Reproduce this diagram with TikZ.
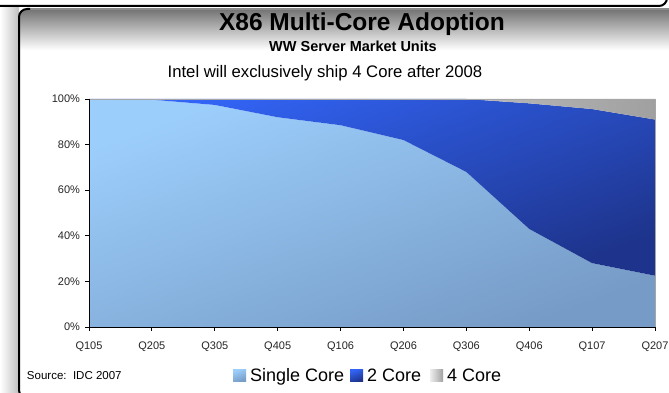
\documentclass[tikz,border=0pt]{standalone}
\usepackage{fontspec}
\setmainfont{Liberation Sans}
\usetikzlibrary{positioning}

\definecolor{sglLight}{RGB}{156,206,252}
\definecolor{sglDark}{RGB}{118,155,198}
\definecolor{dualLight}{RGB}{50,100,245}
\definecolor{dualDark}{RGB}{30,52,140}
\definecolor{quadLight}{RGB}{238,238,238}
\definecolor{quadDark}{RGB}{160,160,160}

\begin{document}
\begin{tikzpicture}[x=1pt, y=-1pt,
    every node/.style={inner sep=0pt, outer sep=0pt},
    frame/.style={line width=2pt, rounded corners=8pt},
    ticklabel/.style={font=\fontsize{11}{13}\selectfont, text=black!85},
    legendkey/.style={minimum width=13pt, minimum height=12pt},
    legendtext/.style={font=\fontsize{18}{20}\selectfont, text height=12pt, text depth=0pt},
    singlefill/.style={top color=sglLight, bottom color=sglDark, shading angle=20},
    dualfill/.style={top color=dualLight, bottom color=dualDark, shading angle=20},
    quadfill/.style={left color=quadLight, right color=quadDark}]
    \useasboundingbox (0,0) rectangle (669,393);
    \clip (0,0) rectangle (669,393);

    % Frames
    \shade[left color=white, right color=black!25] (0,0) rectangle (19,393);
    \begin{scope}
        \clip[rounded corners=8pt] (19,9) rectangle (700,398);
        \fill[white] (19,9) rectangle (700,398);
        \shade[top color=black!55, bottom color=white] (19,9) rectangle (700,50);
    \end{scope}
    \draw[black!45, line width=1.2pt] (26,9) -- (700,9);
    \draw[frame] (80,398) -| (19,9) -- (30,9);
    \draw[frame, fill=white] (-20,-40) rectangle (667,6);

    % Titles
    \node[font=\bfseries\fontsize{24.5}{28}\selectfont, anchor=base] (title) at (362,31) {X86 Multi-Core Adoption};
    \node[font=\bfseries\fontsize{14.5}{17}\selectfont, anchor=base] (subtitle) at (353,52) {WW Server Market Units};
    \node[font=\fontsize{16.7}{19}\selectfont, anchor=base] (note) at (325,78) {Intel will exclusively ship 4 Core after 2008};

    % Data points
    \foreach \v [count=\i from 0] in {100,99.7,97.4,92,88.5,82,68,43,28,22.5}
        \coordinate (s\i) at ({89+62.89*\i},{327-2.28*\v});
    \foreach \v [count=\i from 0] in {100,100,100,100,100,100,100,98.1,95.6,91}
        \coordinate (d\i) at ({89+62.89*\i},{327-2.28*\v});
    \coordinate (origin) at (89,327);
    \coordinate (bottomright) at (655,327);
    \coordinate (topleft) at (89,99);
    \coordinate (topright) at (655,99);

    % Areas
    \shade[singlefill] (origin) -- (s0) -- (s1) -- (s2) -- (s3) -- (s4) -- (s5) -- (s6) -- (s7) -- (s8) -- (s9) -- (bottomright) -- cycle;
    \shade[dualfill] (d0) -- (d1) -- (d2) -- (d3) -- (d4) -- (d5) -- (d6) -- (d7) -- (d8) -- (d9) -- (s9) -- (s8) -- (s7) -- (s6) -- (s5) -- (s4) -- (s3) -- (s2) -- (s1) -- (s0) -- cycle;
    \shade[quadfill] (topleft) -- (topright) -- (d9) -- (d8) -- (d7) -- (d6) -- (d5) -- (d4) -- (d3) -- (d2) -- (d1) -- (d0) -- cycle;
    \draw[black!35, line width=0.6pt] (topleft) -- (topright) -- (bottomright);

    % Axes
    \draw[line width=0.8pt] (topleft) -- (origin) -- (bottomright);
    \foreach \v in {0,20,...,100} {
        \draw[line width=0.8pt] (85,{327-2.28*\v}) -- (89,{327-2.28*\v});
        \node[ticklabel, anchor=east] (ylab\v) at (80,{327-2.28*\v}) {\v\%};
    }
    \foreach \q [count=\i from 0] in {Q105,Q205,Q305,Q405,Q106,Q206,Q306,Q406,Q107,Q207} {
        \draw[line width=0.8pt] ({89+62.89*\i},327) -- ({89+62.89*\i},331);
        \node[ticklabel, anchor=base] (xlab\i) at ({89+62.89*\i},349.5) {\q};
    }

    % Source and legend
    \node[font=\fontsize{11.5}{14}\selectfont, anchor=base west] (source) at (27,379.5) {Source:\ \ IDC 2007};
    \node[legendkey, singlefill] (sglkey) at (239.5,375.5) {};
    \node[legendtext] (sgltext) [right=4pt of sglkey] {Single Core};
    \node[legendkey, dualfill] (dualkey) [right=6pt of sgltext] {};
    \node[legendtext] (dualtext) [right=4pt of dualkey] {2 Core};
    \node[legendkey, quadfill] (quadkey) [right=9pt of dualtext] {};
    \node[legendtext] (quadtext) [right=4pt of quadkey] {4 Core};
\end{tikzpicture}
\end{document}
